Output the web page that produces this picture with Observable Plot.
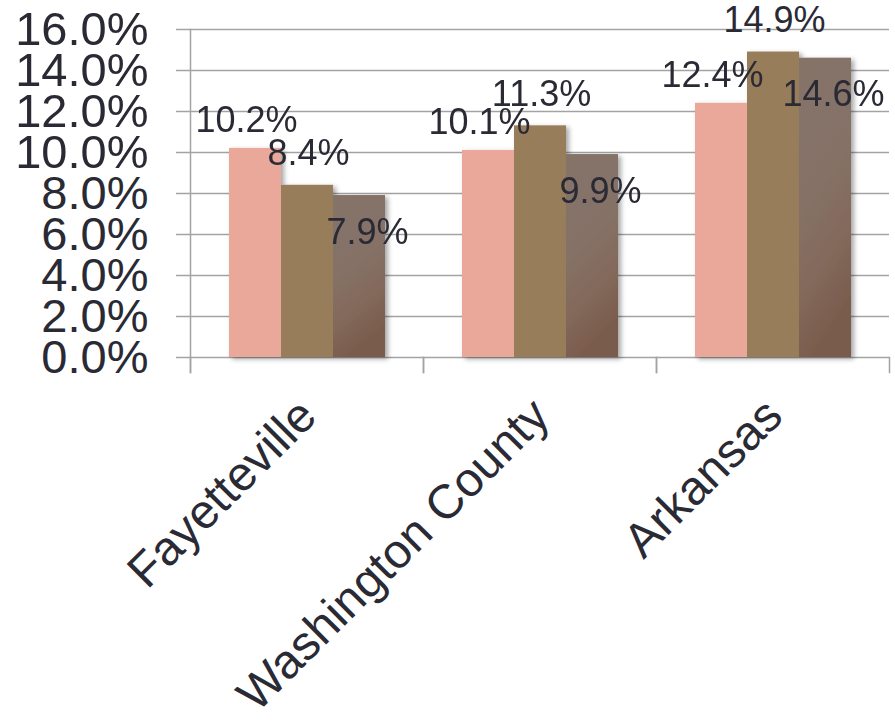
<!DOCTYPE html>
<html><head><meta charset="utf-8">
<script src="https://cdn.jsdelivr.net/npm/d3@7"></script>
<script src="https://cdn.jsdelivr.net/npm/@observablehq/plot@0.6"></script>
<style>body{margin:0;background:#fff;}</style>
</head><body><div id="chart"></div>
<script>
const groups = ["Fayetteville", "Washington County", "Arkansas"];
const seriesNames = ["Series 1", "Series 2", "Series 3"];
const series1 = [10.2, 10.1, 12.4];
const series2 = [8.4, 11.3, 14.9];
const series3 = [7.9, 9.9, 14.6];
const yTicks = [0, 2, 4, 6, 8, 10, 12, 14, 16];

const seriesValues = [series1, series2, series3];
const rows = [];
groups.forEach((g, i) => seriesValues.forEach((vals, j) => rows.push({group: g, series: seriesNames[j], value: vals[i]})));

const font = "'Liberation Sans', Arial, sans-serif";
const textColor = "#2a2a35";
const gridColor = "#a3a3a3";
const labelStyle = [{dx: -9, dy: -16}, {dx: 1, dy: -20}, {dx: 8, dy: 48}];
const fmt = d => d.toFixed(1) + "%";

const labelMarks = seriesNames.map((s, j) => Plot.text(rows.filter(d => d.series === s), {
  fx: "group", x: "series", y: "value", text: d => fmt(d.value),
  dx: labelStyle[j].dx, dy: labelStyle[j].dy, lineAnchor: "bottom",
  fontSize: 36, fill: textColor
}));

const chart = Plot.plot({
  width: 895, height: 722,
  marginTop: 29, marginBottom: 365, marginLeft: 189, marginRight: 5,
  style: {fontFamily: font, background: "#fff", color: textColor, overflow: "visible"},
  fx: {domain: groups, padding: 0, label: null},
  x: {domain: seriesNames, paddingInner: 0, paddingOuter: 0.74, axis: null},
  y: {domain: [0, 16], axis: null},
  color: {domain: seriesNames, range: ["#E9A899", "#977D5A", "url(#grayGrad)"]},
  marks: [
    Plot.gridY(yTicks, {stroke: gridColor, strokeOpacity: 1, strokeWidth: 1.5}),
    Plot.frame({anchor: "left", facetAnchor: "left", stroke: gridColor, strokeWidth: 1.5, insetBottom: -15}),
    Plot.frame({anchor: "left", insetTop: 328, insetBottom: -15, stroke: gridColor, strokeWidth: 1.5}),
    Plot.frame({anchor: "right", insetTop: 328, insetBottom: -15, stroke: gridColor, strokeWidth: 1.5}),
    Plot.barY(rows, {fx: "group", x: "series", y: "value", fill: "series"}),
    ...labelMarks,
    Plot.axisY(yTicks, {tickSize: 14, tickPadding: 28, stroke: gridColor, strokeWidth: 1.5, fill: textColor, fontSize: 47, tickFormat: fmt, label: null}),
    Plot.axisFx({anchor: "bottom", tickSize: 0, tickPadding: 0, rotate: -45, textAnchor: "end", lineAnchor: "bottom", fontSize: 48, dx: 12, dy: 61, fill: textColor, label: null})
  ]
});

const svg = d3.select(chart);
const defs = svg.insert("defs", ":first-child");
const grad = defs.append("linearGradient").attr("id", "grayGrad")
  .attr("x1", 0).attr("y1", 0).attr("x2", 0.25).attr("y2", 1);
[[0, "#857368"], [0.5, "#857166"], [0.75, "#836a5b"], [1, "#7a5c4d"]].forEach(([o, c]) =>
  grad.append("stop").attr("offset", o).attr("stop-color", c));
const filt = defs.append("filter").attr("id", "shadow").attr("x", "-10%").attr("y", "-10%").attr("width", "130%").attr("height", "130%");
filt.append("feDropShadow").attr("dx", 3).attr("dy", 2).attr("stdDeviation", 2.5).attr("flood-color", "#000").attr("flood-opacity", 0.35);
chart.querySelectorAll('g[aria-label="bar"]').forEach(g => g.setAttribute("filter", "url(#shadow)"));

document.getElementById("chart").appendChild(chart);
</script>
</body></html>
